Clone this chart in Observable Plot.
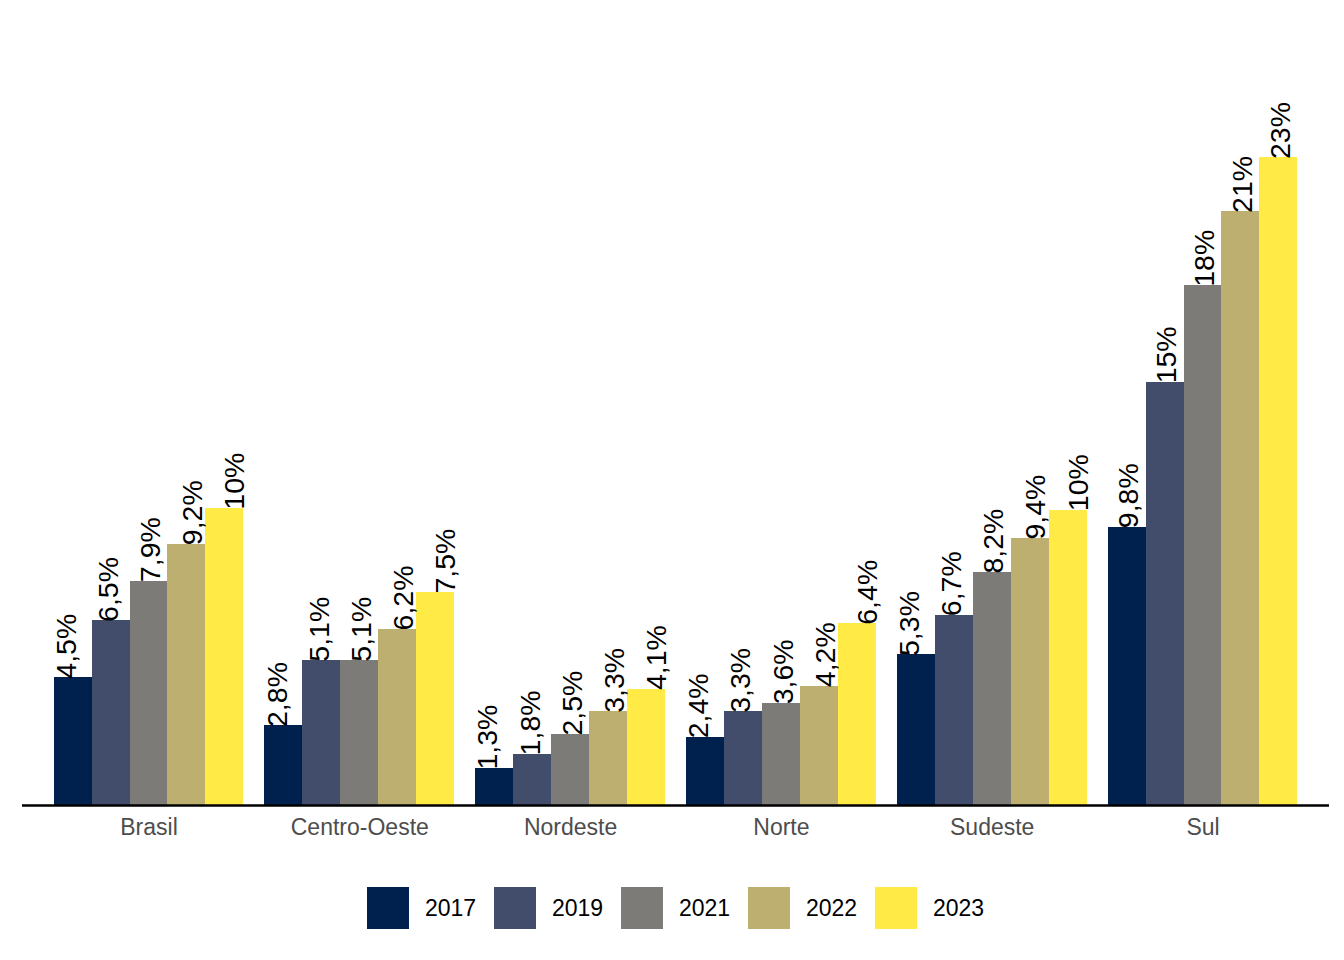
<!DOCTYPE html>
<html>
<head>
<meta charset="utf-8">
<script src="https://cdn.jsdelivr.net/npm/d3@7"></script>
<script src="https://cdn.jsdelivr.net/npm/@observablehq/plot@0.6"></script>
<style>
  body { margin: 0; background: #fff; font-family: "Liberation Sans", Arial, sans-serif; }
  #chart { position: relative; width: 1344px; height: 960px; }
  #legend { position: absolute; left: 367px; top: 887px; display: flex; align-items: center; height: 42px; }
  .item { display: flex; align-items: center; margin-right: 17px; }
  .sw { width: 42px; height: 42px; margin-right: 16px; }
  .lab { font-size: 23px; color: #000; line-height: 42px; width: 52px; }
</style>
</head>
<body>
<div id="chart"></div>
<script>
const regions = ["Brasil", "Centro-Oeste", "Nordeste", "Norte", "Sudeste", "Sul"];
const years = ["2017", "2019", "2021", "2022", "2023"];
const colors = ["#00204D", "#414D6B", "#7C7B78", "#BCAF6F", "#FFEA46"];
// values (%) per region, in order of years
const brasil      = [4.5, 6.5, 7.9, 9.2, 10.45];
const centroOeste = [2.8, 5.1, 5.1, 6.2, 7.5];
const nordeste    = [1.3, 1.8, 2.5, 3.3, 4.1];
const norte       = [2.4, 3.3, 3.6, 4.2, 6.4];
const sudeste     = [5.3, 6.7, 8.2, 9.4, 10.4];
const sul         = [9.8, 14.9, 18.3, 20.9, 22.8];
const series = [brasil, centroOeste, nordeste, norte, sudeste, sul];

// dodge widths (fraction of a category step) used for bars and labels
const barDodge = 0.9;
const labelDodge = [1, 1, 1, 1, 1, 0.9];

const data = [];
series.forEach((vals, ri) => vals.forEach((v, yi) => data.push({region: regions[ri], ri, year: years[yi], yi, value: v})));

const nY = years.length;
const fmt = v => d3.format(".2")(v).replace(".", ",") + "%";

const plot = Plot.plot({
  width: 1344,
  height: 860,
  marginLeft: 22,
  marginRight: 15,
  marginTop: 95,
  marginBottom: 55,
  style: {fontFamily: '"Liberation Sans", Arial, sans-serif', background: "#fff"},
  x: {domain: [-0.6, regions.length - 0.4], axis: null},
  y: {domain: [0, 25], axis: null},
  color: {domain: years, range: colors},
  marks: [
    Plot.rect(data, {
      x1: d => d.ri + (d.yi - nY / 2) * barDodge / nY,
      x2: d => d.ri + (d.yi - nY / 2 + 1) * barDodge / nY,
      y1: 0,
      y2: "value",
      fill: "year",
      shapeRendering: "crispEdges"
    }),
    Plot.ruleY([0], {stroke: "#000", strokeWidth: 2.6}),
    Plot.text(data, {
      x: d => d.ri + (d.yi - (nY - 1) / 2) * labelDodge[d.ri] / nY,
      y: "value",
      text: d => fmt(d.value),
      rotate: -90,
      textAnchor: "start",
      lineAnchor: "middle",
      dx: 2,
      dy: 1,
      fontSize: 28.5,
      fill: "#000"
    }),
    Plot.axisX(d3.range(regions.length), {
      tickFormat: i => regions[i],
      tickSize: 0,
      tickPadding: 13,
      fontSize: 23,
      fill: "#4D4D4D",
      label: null
    })
  ]
});
document.getElementById("chart").appendChild(plot);

const legend = document.createElement("div");
legend.id = "legend";
years.forEach((y, i) => {
  const item = document.createElement("div");
  item.className = "item";
  const sw = document.createElement("div");
  sw.className = "sw";
  sw.style.background = colors[i];
  const lab = document.createElement("span");
  lab.className = "lab";
  lab.textContent = y;
  item.appendChild(sw);
  item.appendChild(lab);
  legend.appendChild(item);
});
document.getElementById("chart").appendChild(legend);
</script>
</body>
</html>
